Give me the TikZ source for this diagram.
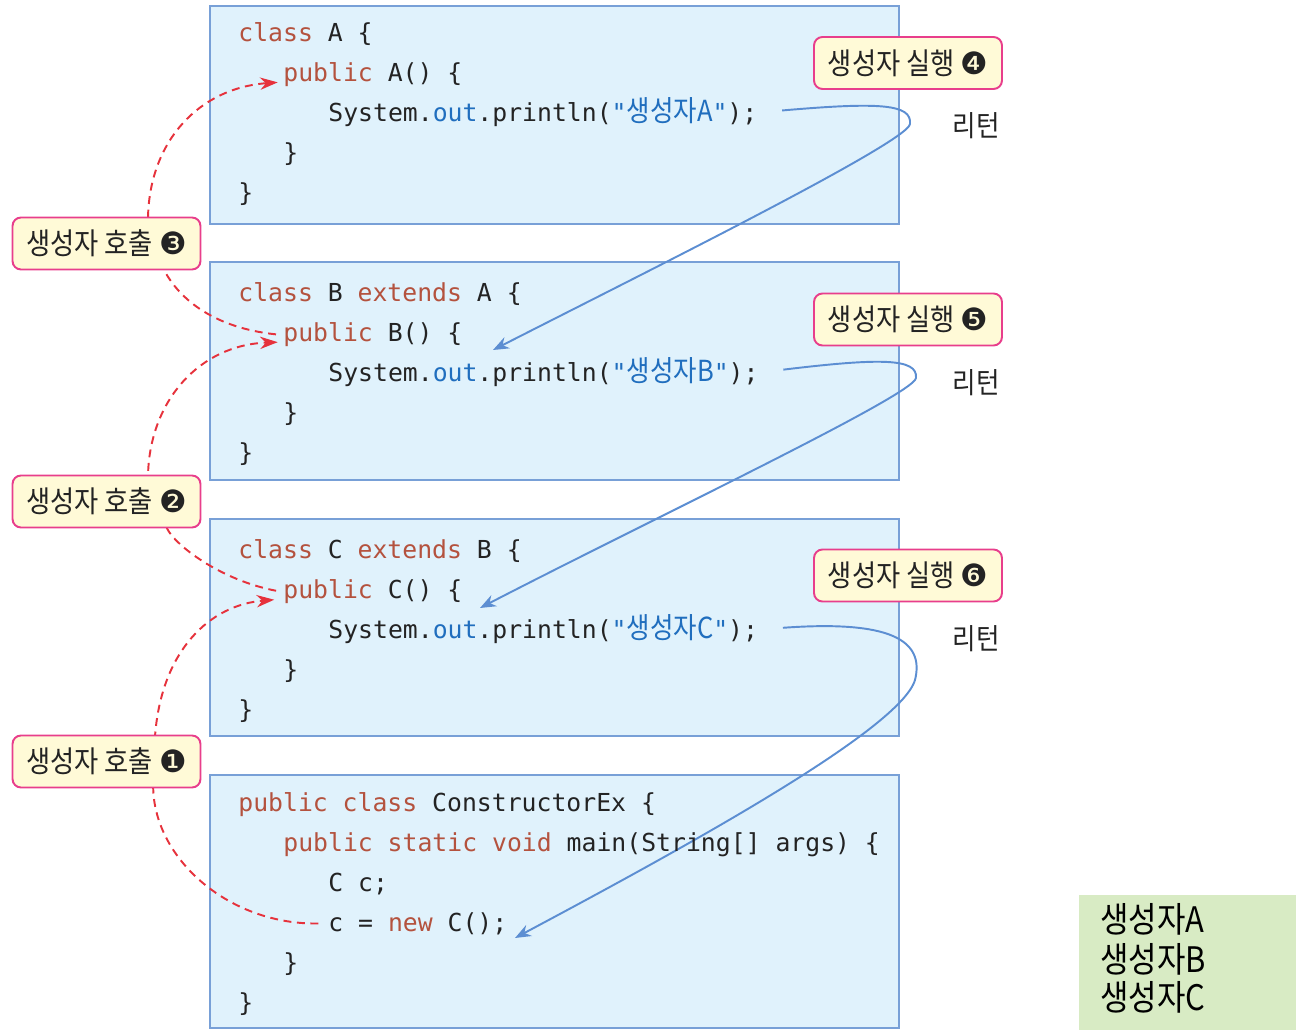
\documentclass[tikz,border=0pt]{standalone}
\usepackage{fontspec}
\usetikzlibrary{arrows.meta}

\newfontfamily\codefont{DejaVu Sans Mono}
\newfontfamily\krfont[FakeStretch=0.88]{Noto Sans CJK KR}
\newfontfamily\numfont{DejaVu Sans}

\definecolor{kwred}{RGB}{180,82,62}
\definecolor{strblue}{RGB}{32,110,190}
\definecolor{codeblack}{RGB}{35,35,35}
\definecolor{boxblue}{RGB}{120,160,215}
\definecolor{boxfill}{RGB}{224,242,252}
\definecolor{tagpink}{RGB}{232,62,140}
\definecolor{tagfill}{RGB}{255,250,215}
\definecolor{callred}{RGB}{230,50,60}
\definecolor{retblue}{RGB}{92,142,210}
\definecolor{outgreen}{RGB}{216,235,196}

\newcommand\kw[1]{\textcolor{kwred}{#1}}
\newcommand\bl[1]{\textcolor{strblue}{#1}}
\newcommand\krstr[1]{{\krfont\fontsize{16.5}{19}\selectfont #1}}
\newcommand\circnum[1]{{\numfont\fontsize{17.5}{19}\selectfont #1}}

\pgfdeclarelayer{back}
\pgfdeclarelayer{mid}
\pgfsetlayers{back,mid,main}

\tikzset{
  code/.style={anchor=base west, inner sep=0pt, text=codeblack,
    font=\codefont\fontsize{14.1}{17}\selectfont},
  codebox/.style={draw=boxblue, fill=boxfill, line width=0.8pt},
  tag/.style={draw=tagpink, fill=tagfill, rounded corners=0.17cm,
    line width=1.1pt, minimum width=3.76cm, minimum height=1.04cm,
    inner sep=0pt, text=codeblack, font=\krfont\fontsize{17}{19}\selectfont},
  word/.style={inner sep=0pt, text=codeblack, font=\krfont\fontsize{16.5}{19}\selectfont},
  outtext/.style={anchor=base west, inner sep=0pt, text=black,
    font=\krfont\fontsize{20}{24}\selectfont},
  call/.style={draw=callred, line width=1.1pt, dash pattern=on 4.5pt off 3.2pt},
  calltip/.style={-{Stealth[length=10pt,width=7pt]}},
  ret/.style={draw=retblue, line width=1.1pt, -{Stealth[length=9pt,width=7pt]}},
}

\begin{document}
\begin{tikzpicture}[x=0.02cm,y=-0.02cm]
\useasboundingbox (0,0) rectangle (1296,1030);

% code boxes
\begin{pgfonlayer}{back}
\draw[codebox] (210,6) rectangle (899,224);
\draw[codebox] (210,262) rectangle (899,480);
\draw[codebox] (210,519) rectangle (899,736);
\draw[codebox] (210,775) rectangle (899,1028);
\fill[outgreen] (1079,895) rectangle (1296,1030);
\end{pgfonlayer}

% class A
\node[code] (a1) at (238,42) {\kw{class} A \{};
\node[code] (a2) at (283,82) {\kw{public} A() \{};
\node[code] (a3) at (328,122) {System.\bl{out}.println(\bl{"\krstr{생성자A}"});};
\node[code] (a4) at (283,162) {\}};
\node[code] (a5) at (238,202) {\}};

% class B
\node[code] (b1) at (238,302) {\kw{class} B \kw{extends} A \{};
\node[code] (b2) at (283,342) {\kw{public} B() \{};
\node[code] (b3) at (328,382) {System.\bl{out}.println(\bl{"\krstr{생성자B}"});};
\node[code] (b4) at (283,422) {\}};
\node[code] (b5) at (238,462) {\}};

% class C
\node[code] (c1) at (238,559) {\kw{class} C \kw{extends} B \{};
\node[code] (c2) at (283,599) {\kw{public} C() \{};
\node[code] (c3) at (328,639) {System.\bl{out}.println(\bl{"\krstr{생성자C}"});};
\node[code] (c4) at (283,679) {\}};
\node[code] (c5) at (238,719) {\}};

% main
\node[code] (m1) at (238,811) {\kw{public class} ConstructorEx \{};
\node[code] (m2) at (283,851) {\kw{public static void} main(String[] args) \{};
\node[code] (m3) at (328,891) {C c;};
\node[code] (m4) at (328,931) {c = \kw{new} C();};
\node[code] (m5) at (283,971) {\}};
\node[code] (m6) at (238,1011) {\}};

% tags
\node[tag] (call3) at (106.5,243.5) {생성자 호출 \circnum{❸}};
\node[tag] (call2) at (106.5,501.5) {생성자 호출 \circnum{❷}};
\node[tag] (call1) at (106.5,761.5) {생성자 호출 \circnum{❶}};
\node[tag] (run4) at (908,63) {생성자 실행 \circnum{❹}};
\node[tag] (run5) at (908,319.5) {생성자 실행 \circnum{❺}};
\node[tag] (run6) at (908,575.5) {생성자 실행 \circnum{❻}};

\node[word] (back4) at (976,126) {리턴};
\node[word] (back5) at (976,383) {리턴};
\node[word] (back6) at (976,639) {리턴};

% output
\node[outtext] (o1) at (1100,932) {생성자A};
\node[outtext] (o2) at (1100,972) {생성자B};
\node[outtext] (o3) at (1100,1010) {생성자C};

\coordinate (toB) at (493,350);
\coordinate (toC) at (480,608);
\coordinate (toM) at (515,938);

\begin{pgfonlayer}{mid}
% calls
\draw[call,calltip,shorten <=5.5pt,shorten >=5pt]
  (m4.west) .. controls (230,925) and (155,860) .. (call1.-30) -- (call1.29)
  .. controls (162,650) and (210,605) .. (c2.base west);
\draw[call,calltip,shorten <=4pt,shorten >=3pt]
  (c2.west) .. controls (220,580) and (175,545) .. (call2.-24) -- (call2.33)
  .. controls (150,400) and (200,345) .. (b2.base west);
\draw[call,calltip,shorten <=4pt,shorten >=3pt]
  (b2.west) .. controls (215,328) and (180,300) .. (call3.-25) -- (call3.33)
  .. controls (150,140) and (200,88) .. (a2.base west);

% returns
\draw[ret,shorten <=14pt]
  (a3.east) .. controls (880,102) and (912,104) .. (910,124)
  .. controls (908,142) and (650,270) .. (toB);
\draw[ret,shorten <=14pt]
  (b3.east) .. controls (880,358) and (918,358) .. (916,378)
  .. controls (914,395) and (650,520) .. (toC);
\draw[ret,shorten <=14pt]
  (c3.east) .. controls (890,620) and (925,640) .. (915,680)
  .. controls (900,730) and (680,850) .. (toM);
\end{pgfonlayer}

\end{tikzpicture}
\end{document}
